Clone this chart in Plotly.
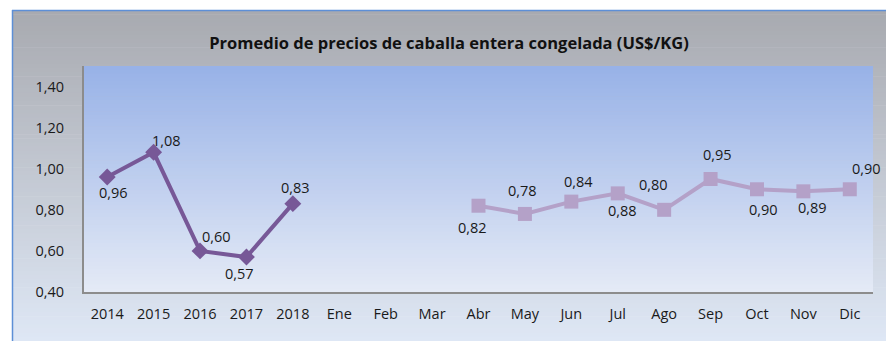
import plotly.graph_objects as go

# Category axis: five annual averages followed by the months of the current year
categories = ["2014", "2015", "2016", "2017", "2018", "Ene", "Feb", "Mar", "Abr",
              "May", "Jun", "Jul", "Ago", "Sep", "Oct", "Nov", "Dic"]

years = ["2014", "2015", "2016", "2017", "2018"]
year_prices = [0.96, 1.08, 0.60, 0.57, 0.83]

months = ["Abr", "May", "Jun", "Jul", "Ago", "Sep", "Oct", "Nov", "Dic"]
month_prices = [0.82, 0.78, 0.84, 0.88, 0.80, 0.95, 0.90, 0.89, 0.90]

y_ticks = [0.40, 0.60, 0.80, 1.00, 1.20, 1.40]

# Label offsets (pixels) relative to each marker
year_offsets = [(6, -16), (13, 12), (16, 14), (-7, -16), (3, 16)]
month_offsets = [(-6, -22), (-2, 23), (7, 20), (5, -17), (-11, 25),
                 (7, 25), (7, -20), (9, -16), (17, 21)]

W, H = 886, 341
L, R, T, B = 84, 13, 66, 49
PW, PH = W - L - R, H - T - B

DARK = "#775897"
LIGHT = "#b4a1c8"
FONT = "Open Sans"


def px_x(px):
    return (px - L) / PW


def px_y(py):
    return 1 - (py - T) / PH


def mix(c1, c2, t):
    return "rgb({},{},{})".format(*[round(a + (b - a) * t) for a, b in zip(c1, c2)])


shapes = []
# Outer chart background: grey at the top fading to pale blue
outer_top, outer_bot = (168, 170, 176), (222, 231, 245)
y0, y1 = 10, H
n = 80
for i in range(n):
    a = y0 + (y1 - y0) * i / n
    b = y0 + (y1 - y0) * (i + 1) / n + 0.6
    shapes.append(dict(type="rect", xref="paper", yref="paper", layer="below",
                       x0=px_x(12), x1=px_x(W + 2), y0=px_y(b), y1=px_y(a),
                       fillcolor=mix(outer_top, outer_bot, i / (n - 1)), line_width=0))
# Plot area: blue at the top fading to very pale blue
plot_top, plot_bot = (152, 178, 231), (228, 234, 246)
n = 60
for i in range(n):
    a = T + PH * i / n
    b = T + PH * (i + 1) / n + 0.6
    shapes.append(dict(type="rect", xref="paper", yref="paper", layer="below",
                       x0=0, x1=1, y0=px_y(min(b, T + PH)), y1=px_y(a),
                       fillcolor=mix(plot_top, plot_bot, i / (n - 1)), line_width=0))
# Chart frame border (left and top edges)
shapes.append(dict(type="line", xref="paper", yref="paper", x0=px_x(12.5), x1=px_x(12.5),
                   y0=px_y(H + 2), y1=px_y(10), line=dict(color="#5d8fd6", width=1.5)))
shapes.append(dict(type="line", xref="paper", yref="paper", x0=px_x(12), x1=px_x(W + 2),
                   y0=px_y(10.5), y1=px_y(10.5), line=dict(color="#5d8fd6", width=1.5)))

fig = go.Figure()
fig.add_trace(go.Scatter(x=years, y=year_prices, mode="lines+markers",
                         line=dict(color=DARK, width=4),
                         marker=dict(symbol="diamond", size=13, color=DARK),
                         showlegend=False, hoverinfo="skip"))
fig.add_trace(go.Scatter(x=months, y=month_prices, mode="lines+markers",
                         line=dict(color=LIGHT, width=4),
                         marker=dict(symbol="square", size=14, color=LIGHT),
                         showlegend=False, hoverinfo="skip"))

annotations = []
for xs, ys, offs in ((years, year_prices, year_offsets), (months, month_prices, month_offsets)):
    for x, y, (dx, dy) in zip(xs, ys, offs):
        annotations.append(dict(x=categories.index(x), y=y, xref="x", yref="y", showarrow=False,
                                text=f"{y:.2f}".replace(".", ","), xshift=dx, yshift=dy,
                                font=dict(family=FONT, size=14.5, color="#1a1a1a")))

fig.update_layout(
    width=W, height=H,
    margin=dict(l=L, r=R, t=T, b=B, pad=0),
    paper_bgcolor="white",
    plot_bgcolor="rgba(0,0,0,0)",
    separators=",.",
    shapes=shapes,
    annotations=annotations,
    title=dict(text="<b>Promedio de precios de caballa entera congelada (US$/KG)</b>",
               x=449 / W, xanchor="center", y=1 - 43 / H, yanchor="middle",
               font=dict(family=FONT, size=16.5, color="#111111")),
    xaxis=dict(type="category", categoryorder="array", categoryarray=categories,
               range=[-0.5, len(categories) - 0.5], showgrid=False,
               showline=True, linecolor="#8c8c8c", linewidth=2, ticks="",
               ticklabelstandoff=8,
               tickfont=dict(family=FONT, size=14.5, color="#1a1a1a")),
    yaxis=dict(range=[0.4, 1.5], tickvals=y_ticks, tickformat=".2f", showgrid=False,
               zeroline=False, showline=True, linecolor="#8c8c8c", linewidth=2,
               ticks="", ticklabelstandoff=15,
               tickfont=dict(family=FONT, size=14.5, color="#1a1a1a")),
)

fig.write_html("out.html")
